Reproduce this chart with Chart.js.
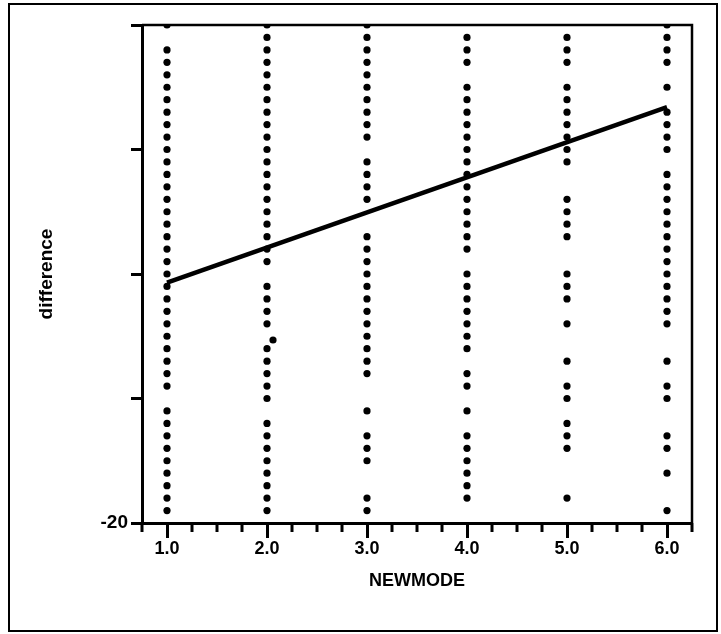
<!DOCTYPE html>
<html>
<head>
<meta charset="utf-8">
<script src="https://cdn.jsdelivr.net/npm/chart.js@4/dist/chart.umd.min.js"></script>
<style>
html,body{margin:0;padding:0;background:#fff;}
#wrap{width:721px;height:634px;position:relative;}
canvas{display:block;}
</style>
</head>
<body>
<div id="wrap"><canvas id="c" width="721" height="634"></canvas></div>
<script>
// ---- data ----
const modes = [1, 2, 3, 4, 5, 6];   // NEWMODE categories
const diffMode1 = [20,18,17,16,15,14,13,12,11,10,9,8,7,6,5,4,3,2,1,0,-1,-2,-3,-4,-5,-6,-7,-8,-9,-11,-12,-13,-14,-15,-16,-17,-18,-19];
const diffMode2 = [20,19,18,17,16,15,14,13,12,11,10,9,8,7,6,5,4,3,2,1,-1,-2,-3,-4,-6,-7,-8,-9,-10,-12,-13,-14,-15,-16,-17,-18,-19];
const diffMode3 = [20,19,18,17,16,15,14,13,12,11,9,8,7,6,3,2,1,0,-1,-2,-3,-4,-5,-6,-7,-8,-11,-13,-14,-15,-18,-19];
const diffMode4 = [19,18,17,15,14,13,12,11,10,9,8,7,6,5,4,3,2,0,-1,-2,-3,-4,-5,-6,-8,-9,-11,-13,-14,-15,-16,-17,-18];
const diffMode5 = [19,18,17,15,14,13,12,11,10,9,6,5,4,3,0,-1,-2,-4,-7,-9,-10,-12,-13,-14,-18];
const diffMode6 = [20,19,18,17,15,13,12,11,10,8,7,6,5,4,3,2,1,0,-1,-2,-3,-4,-7,-9,-10,-13,-14,-16,-19];
const strayX = [2.06];               // one slightly displaced dot
const strayY = [-5.3];
const fitX = [1, 6];                 // regression line end points
const fitY = [-0.7, 13.4];
const yLabelled = [-20];             // only labelled y tick
const xTickLabels = ['1.0', '2.0', '3.0', '4.0', '5.0', '6.0'];

// ---- build datasets ----
const columns = [diffMode1, diffMode2, diffMode3, diffMode4, diffMode5, diffMode6];
const points = [];
columns.forEach((col, i) => col.forEach(v => points.push({x: modes[i], y: v})));
strayX.forEach((x, i) => points.push({x: x, y: strayY[i]}));
const fitLine = fitX.map((x, i) => ({x: x, y: fitY[i]}));

const FONT = "'Liberation Sans', Arial, sans-serif";
const isInt = v => Math.abs(v - Math.round(v)) < 1e-6;

const framePlugin = {
  id: 'frame',
  afterDraw(chart) {
    const {ctx, chartArea: a, scales: {x}} = chart;
    ctx.save();
    ctx.strokeStyle = '#000';
    // top and right border of plot area
    ctx.lineWidth = 2.5;
    ctx.beginPath();
    ctx.moveTo(a.left, a.top);
    ctx.lineTo(a.right, a.top);
    ctx.lineTo(a.right, a.bottom);
    ctx.stroke();
    // minor x ticks
    ctx.lineWidth = 3;
    x.ticks.forEach(t => {
      if (!isInt(t.value)) {
        const px = x.getPixelForValue(t.value);
        ctx.beginPath();
        ctx.moveTo(px, a.bottom);
        ctx.lineTo(px, a.bottom + 9);
        ctx.stroke();
      }
    });
    // outer frame
    ctx.lineWidth = 2;
    ctx.strokeRect(9, 4, chart.width - 13, chart.height - 7);
    ctx.restore();
  }
};

new Chart(document.getElementById('c'), {
  type: 'scatter',
  data: {
    datasets: [
      {
        data: fitLine,
        showLine: true,
        borderColor: '#000',
        borderWidth: 4.5,
        pointRadius: 0,
        pointHoverRadius: 0
      },
      {
        data: points,
        pointRadius: 3.6,
        pointBackgroundColor: '#000',
        pointBorderWidth: 0,
        clip: 0
      }
    ]
  },
  options: {
    responsive: false,
    animation: false,
    devicePixelRatio: 1,
    layout: {padding: {left: 35, right: 29, top: 25, bottom: 42}},
    plugins: {legend: {display: false}, tooltip: {enabled: false}},
    scales: {
      x: {
        type: 'linear',
        min: 0.75,
        max: 6.25,
        afterFit: s => { s.height = 69; },
        border: {display: true, color: '#000', width: 3},
        grid: {
          drawOnChartArea: false,
          drawTicks: true,
          tickLength: 15,
          tickWidth: 3,
          tickColor: c => (c.tick && isInt(c.tick.value)) ? '#000' : 'rgba(0,0,0,0)'
        },
        ticks: {
          stepSize: 0.25,
          autoSkip: false,
          maxRotation: 0,
          padding: 0,
          color: '#000',
          font: {family: FONT, size: 18, weight: 'bold'},
          callback: v => isInt(v) ? xTickLabels[modes.indexOf(Math.round(v))] || '' : ''
        },
        title: {
          display: true,
          text: 'NEWMODE',
          color: '#000',
          font: {family: FONT, size: 18, weight: 'bold'},
          padding: 0
        }
      },
      y: {
        type: 'linear',
        min: -20,
        max: 20,
        afterFit: s => { s.width = 107; },
        border: {display: true, color: '#000', width: 3},
        grid: {
          drawOnChartArea: false,
          drawTicks: true,
          tickLength: 11,
          tickWidth: 3,
          tickColor: '#000'
        },
        ticks: {
          stepSize: 10,
          padding: 3,
          color: '#000',
          font: {family: FONT, size: 19, weight: 'bold'},
          callback: v => yLabelled.includes(v) ? String(v) : ''
        },
        title: {
          display: true,
          text: 'difference',
          color: '#000',
          font: {family: FONT, size: 19, weight: 'bold'},
          padding: 0
        }
      }
    }
  },
  plugins: [framePlugin]
});
</script>
</body>
</html>
